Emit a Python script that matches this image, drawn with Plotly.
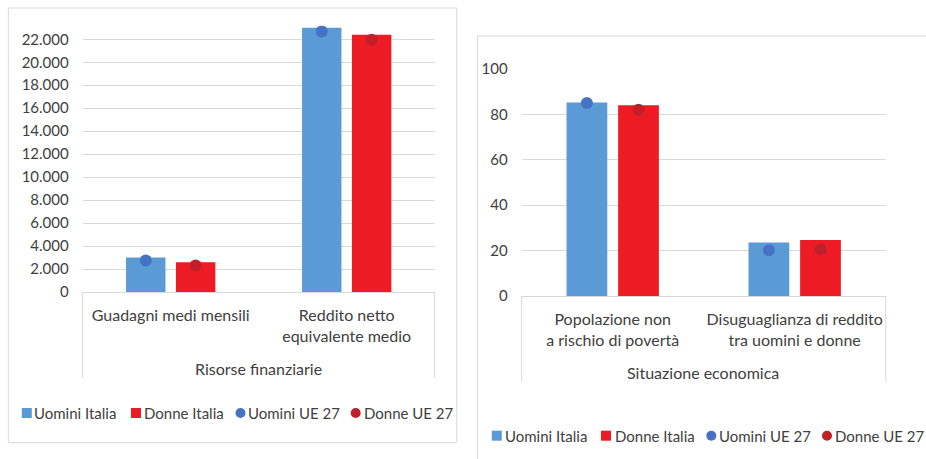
import plotly.graph_objects as go

# ---------------- data ----------------
categorie_sx = ["Guadagni medi mensili", "Reddito netto<br>equivalente medio"]
gruppo_sx = "Risorse finanziarie"
uomini_italia_sx = [3000, 23000]
donne_italia_sx = [2580, 22400]
uomini_ue_sx = [2750, 22670]
donne_ue_sx = [2300, 21950]

categorie_dx = ["Popolazione non<br>a rischio di povertà", "Disuguaglianza di reddito<br>tra uomini e donne"]
gruppo_dx = "Situazione economica"
uomini_italia_dx = [85.2, 23.6]
donne_italia_dx = [84.0, 24.7]
uomini_ue_dx = [85.0, 20.1]
donne_ue_dx = [82.0, 20.6]

serie = ["Uomini Italia", "Donne Italia", "Uomini UE 27", "Donne UE 27"]

# ---------------- style ----------------
W, H = 926, 459
C_UI = "#5B9BD5"
C_DI = "#ED1C24"
C_UE_U = "#4472C4"
C_UE_D = "#C0202A"
FONT = "Lato"
TXT = "#404040"
GRID = "#D9D9D9"


def fx(px):
    return px / W


def fy(py):
    return 1 - py / H


fig = go.Figure()

panels = [
    dict(cats=categorie_sx, ui=uomini_italia_sx, di=donne_italia_sx,
         uu=uomini_ue_sx, du=donne_ue_sx, xa="x", ya="y"),
    dict(cats=categorie_dx, ui=uomini_italia_dx, di=donne_italia_dx,
         uu=uomini_ue_dx, du=donne_ue_dx, xa="x2", ya="y2"),
]

for p in panels:
    fig.add_trace(go.Bar(x=p["cats"], y=p["ui"], name=serie[0], marker_color=C_UI,
                         marker_line_width=0, offsetgroup="u",
                         xaxis=p["xa"], yaxis=p["ya"], showlegend=False))
    fig.add_trace(go.Bar(x=p["cats"], y=p["di"], name=serie[1], marker_color=C_DI,
                         marker_line_width=0, offsetgroup="d",
                         xaxis=p["xa"], yaxis=p["ya"], showlegend=False))
    fig.add_trace(go.Scatter(x=p["cats"], y=p["uu"], name=serie[2], mode="markers",
                             marker=dict(color=C_UE_U, size=12), orientation="v",
                             offsetgroup="u", xaxis=p["xa"], yaxis=p["ya"], showlegend=False))
    fig.add_trace(go.Scatter(x=p["cats"], y=p["du"], name=serie[3], mode="markers",
                             marker=dict(color=C_UE_D, size=12), orientation="v",
                             offsetgroup="d", xaxis=p["xa"], yaxis=p["ya"], showlegend=False))

tickfont_y = dict(family=FONT, size=15, color=TXT)
tickfont_x = dict(family=FONT, size=16, color=TXT)

fig.update_layout(
    template="none",
    width=W, height=H, autosize=False,
    margin=dict(l=0, r=0, t=0, b=0, pad=0, autoexpand=False),
    paper_bgcolor="white", plot_bgcolor="white",
    barmode="group", bargap=0.433, bargroupgap=0.21,
    scattermode="group", scattergap=0.433,
    separators=",.",
    showlegend=False,
    xaxis=dict(domain=[fx(82.7), fx(434.7)], anchor="y", type="category", automargin=False,
               showline=True, linecolor=GRID, linewidth=1, ticks="",
               tickfont=tickfont_x, ticklabelstandoff=9, showgrid=False),
    yaxis=dict(domain=[fy(292), fy(25.5)], anchor="x", range=[0, 23200], automargin=False,
               dtick=2000, tick0=0, tickformat=",d", showgrid=True, gridcolor=GRID,
               zeroline=False, showline=False, ticks="", tickfont=tickfont_y,
               ticklabelstandoff=13),
    xaxis2=dict(domain=[fx(521.7), fx(885.7)], anchor="y2", type="category", automargin=False,
                showline=True, linecolor=GRID, linewidth=1, ticks="",
                tickfont=tickfont_x, ticklabelstandoff=9, showgrid=False),
    yaxis2=dict(domain=[fy(296), fy(69)], anchor="x2", range=[0, 100], automargin=False,
                dtick=20, tick0=0, showgrid=True, gridcolor=GRID,
                zeroline=False, showline=False, ticks="", tickfont=tickfont_y,
                ticklabelstandoff=13),
)

shapes = []
# panel borders
shapes.append(dict(type="rect", xref="paper", yref="paper",
                   x0=fx(8.3), x1=fx(456.7), y0=fy(442.7), y1=fy(8),
                   line=dict(color=GRID, width=1), fillcolor="rgba(0,0,0,0)", layer="below"))
shapes.append(dict(type="rect", xref="paper", yref="paper",
                   x0=fx(477.3), x1=fx(940), y0=fy(470), y1=fy(36),
                   line=dict(color=GRID, width=1), fillcolor="rgba(0,0,0,0)", layer="below"))
# category group dividers
for (xl, xr, ytop, ybot) in [(82.7, 434.7, 292, 377.7), (521.7, 885.7, 296, 381.7)]:
    for xv in (xl, xr):
        shapes.append(dict(type="line", xref="paper", yref="paper",
                           x0=fx(xv), x1=fx(xv), y0=fy(ytop), y1=fy(ybot),
                           line=dict(color=GRID, width=1)))

annotations = []
# group labels
annotations.append(dict(text=gruppo_sx, xref="paper", yref="paper", x=fx(258.7), y=fy(368.7),
                        xanchor="center", yanchor="middle", showarrow=False,
                        font=dict(family=FONT, size=16, color=TXT)))
annotations.append(dict(text=gruppo_dx, xref="paper", yref="paper", x=fx(703.3), y=fy(372.7),
                        xanchor="center", yanchor="middle", showarrow=False,
                        font=dict(family=FONT, size=16, color=TXT)))

# legends (symbols + labels)
colors = [C_UI, C_DI, C_UE_U, C_UE_D]
kinds = ["rect", "rect", "circle", "circle"]
legend_rows = [
    dict(y=413, sym=[26.8, 136, 240.5, 355.7], txt=[35, 145, 249, 365]),
    dict(y=435.7, sym=[496.8, 606, 711.3, 827], txt=[505.7, 615.7, 720, 836]),
]
for row in legend_rows:
    for i in range(4):
        cx = row["sym"][i]
        cy = row["y"]
        r = 5
        shapes.append(dict(type=kinds[i], xref="paper", yref="paper",
                           x0=fx(cx - r), x1=fx(cx + r), y0=fy(cy + r), y1=fy(cy - r),
                           fillcolor=colors[i], line=dict(width=0)))
        annotations.append(dict(text=serie[i], xref="paper", yref="paper",
                                x=fx(row["txt"][i] - 3), y=fy(cy), xanchor="left", yanchor="middle",
                                showarrow=False, font=dict(family=FONT, size=15, color=TXT)))

fig.update_layout(shapes=shapes, annotations=annotations)

fig.write_html("out.html", config={"displayModeBar": False},
               post_script="document.body.style.margin='0px';document.body.style.overflow='hidden';")
